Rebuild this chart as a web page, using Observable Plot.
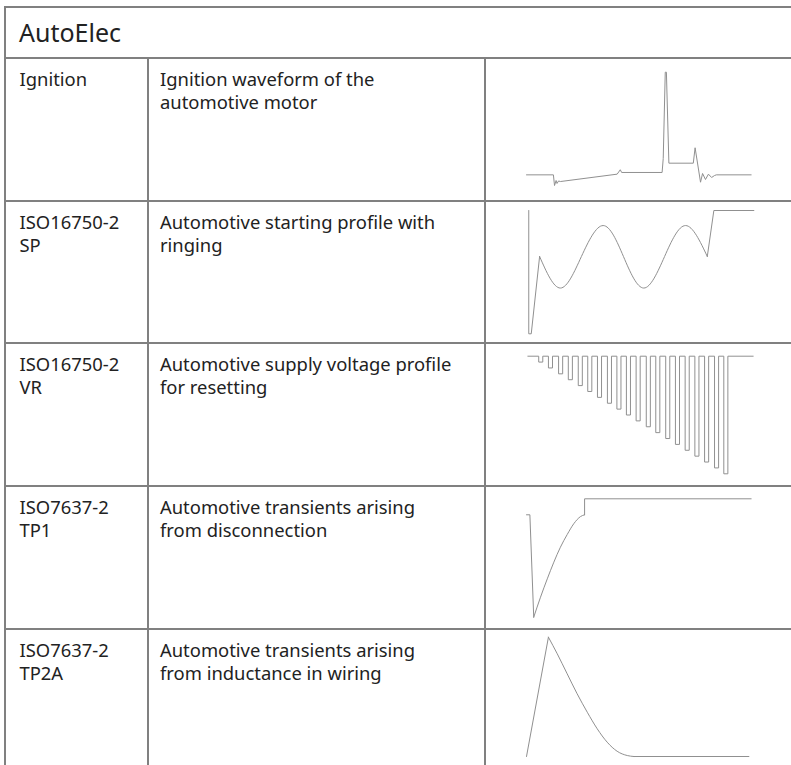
<!DOCTYPE html>
<html>
<head>
<meta charset="utf-8">
<script src="https://cdn.jsdelivr.net/npm/d3@7"></script>
<script src="https://cdn.jsdelivr.net/npm/@observablehq/plot@0.6"></script>
<style>
html, body { margin: 0; padding: 0; background: #fff; }
#root { position: relative; width: 791px; height: 765px; overflow: hidden; font-family: "Noto Sans", "Open Sans", sans-serif; color: #222; }
.hl { position: absolute; background: #808080; height: 2px; }
.vl { position: absolute; background: #808080; width: 2px; }
.txt { position: absolute; font-size: 18.4px; line-height: 23px; white-space: nowrap; }
.title { position: absolute; font-size: 25px; line-height: 30px; white-space: nowrap; }
.chart { position: absolute; }
.chart svg { display: block; overflow: visible; }
</style>
</head>
<body>
<div id="root"></div>
<script>
// ---------- table text ----------
const title = "AutoElec";
const names = [
  ["Ignition"],
  ["ISO16750-2", "SP"],
  ["ISO16750-2", "VR"],
  ["ISO7637-2", "TP1"],
  ["ISO7637-2", "TP2A"]
];
const descriptions = [
  ["Ignition waveform of the", "automotive motor"],
  ["Automotive starting profile with", "ringing"],
  ["Automotive supply voltage profile", "for resetting"],
  ["Automotive transients arising", "from disconnection"],
  ["Automotive transients arising", "from inductance in wiring"]
];

// ---------- waveform values (time in % of span, level in % of full scale) ----------
// Ignition
const ignT = [0, 11.9, 12.4, 13.1, 13.5, 14.2, 15.0, 40.1, 41.5, 42.1, 60.0, 60.5, 61.4, 61.9, 63.0, 73.8, 74.6, 77.0, 77.9, 79.2, 80.5, 81.9, 83.2, 84.0, 99.4];
const ignV = [9.4, 9.4, 0, 4.4, 1.8, 4.0, 3.5, 10.0, 13.9, 11.5, 11.5, 23.8, 100, 100, 19.7, 19.7, 33.3, 2.9, 10.6, 5.3, 10.0, 7.1, 8.8, 9.4, 9.4];

// ISO16750-2 SP
const spDropT = [1.0, 1.0, 2.1, 5.8];
const spDropV = [100, 0, 0, 62.7];
const spRingT = [5.8, 15.0, 24.3, 33.9, 42.9, 51.9, 61.1, 70.4, 80.0];
const spRingV = [62.7, 37.1, 62.7, 87.8, 62.7, 37.1, 62.7, 87.8, 62.7];
const spEndT = [80.0, 82.9, 100.6];
const spEndV = [62.7, 100, 100];

// ISO16750-2 VR: pulse start times, pulse width, pulse minimum level
const vrStart = [5.4, 9.7, 14.2, 18.5, 22.9, 27.1, 31.4, 35.8, 40.0, 44.2, 48.5, 53.0, 57.2, 61.6, 65.9, 70.2, 74.5, 78.8, 83.2, 87.3];
const vrWidth = 1.8;
const vrLevel = [95, 90, 85, 80, 75, 70, 65, 60, 55, 50, 45, 40, 35, 30, 25, 20, 15, 10, 5, 0];
const vrSpan = [0.6, 100.3];

// ISO7637-2 TP1
const tp1DropT = [0, 1.5, 3.2];
const tp1DropV = [86.5, 86.5, 0];
const tp1RecT = [3.2, 6.2, 9.2, 12.1, 15.0, 18.0, 20.9, 23.9, 25.7];
const tp1RecV = [0, 16.9, 32.4, 46.5, 59.1, 69.8, 78.9, 85.0, 86.5];
const tp1EndT = [25.7, 25.7, 99.4];
const tp1EndV = [86.5, 100, 100];

// ISO7637-2 TP2A
const tp2RiseT = [0, 9.7];
const tp2RiseV = [0, 100];
const tp2DecayT = [9.7, 13.6, 18.0, 22.4, 26.9, 31.3, 35.7, 40.1, 44.6, 47.5];
const tp2DecayV = [100, 86.1, 69.3, 52.6, 37.1, 23.2, 12.0, 4.4, 0.8, 0];
const tp2EndT = [47.5, 98.4];
const tp2EndV = [0, 0];

// ---------- helpers ----------
const pts = (T, V) => T.map((t, i) => ({t, v: V[i]}));
function vrPoints() {
  const p = [{t: vrSpan[0], v: 100}];
  vrStart.forEach((s, i) => {
    p.push({t: s, v: 100}, {t: s, v: vrLevel[i]}, {t: s + vrWidth, v: vrLevel[i]}, {t: s + vrWidth, v: 100});
  });
  p.push({t: vrSpan[1], v: 100});
  return p;
}

const STROKE = "#909090";
const seg = (data, curve = "linear") => Plot.line(data, {x: "t", y: "v", curve, stroke: STROKE, strokeWidth: 1});

const waves = [
  {mt: 12.7, mb: 14, marks: [seg(pts(ignT, ignV))]},
  {mt: 8, mb: 8.7, marks: [seg(pts(spDropT, spDropV)), seg(pts(spRingT, spRingV), "natural"), seg(pts(spEndT, spEndV))]},
  {mt: 11.7, mb: 10.7, marks: [seg(vrPoints())]},
  {mt: 11.3, mb: 10.3, marks: [seg(pts(tp1DropT, tp1DropV)), seg(pts(tp1RecT, tp1RecV), "monotone-x"), seg(pts(tp1EndT, tp1EndV))]},
  {mt: 6.7, mb: 14, marks: [seg(pts(tp2RiseT, tp2RiseV)), seg(pts(tp2DecayT, tp2DecayV), "monotone-x"), seg(pts(tp2EndT, tp2EndV))]}
];

// ---------- layout ----------
const root = document.getElementById("root");
const rowLines = [57, 200, 342, 485, 628];
const colLines = [4, 147, 484];
const topLine = 6;

function el(cls, style, text) {
  const d = document.createElement("div");
  d.className = cls;
  Object.assign(d.style, style);
  if (text != null) d.innerHTML = text;
  root.appendChild(d);
  return d;
}

// grid lines
el("hl", {left: colLines[0] + "px", top: topLine + "px", width: (791 - colLines[0]) + "px"});
rowLines.forEach(y => el("hl", {left: colLines[0] + "px", top: y + "px", width: (791 - colLines[0]) + "px"}));
el("vl", {left: colLines[0] + "px", top: topLine + "px", height: (765 - topLine) + "px"});
el("vl", {left: colLines[1] + "px", top: rowLines[0] + "px", height: (765 - rowLines[0]) + "px"});
el("vl", {left: colLines[2] + "px", top: rowLines[0] + "px", height: (765 - rowLines[0]) + "px"});

// title
el("title", {left: "19px", top: "17px"}, title);

// rows
names.forEach((lines, i) => {
  const top = rowLines[i] + 2 + 8.3;
  el("txt", {left: "19.5px", top: top + "px"}, lines.join("<br>"));
  el("txt", {left: "160px", top: top + "px"}, descriptions[i].join("<br>"));
  const w = waves[i];
  const H = 140, W = 305;
  const chart = Plot.plot({
    width: W, height: H,
    marginLeft: 40, marginRight: 39, marginTop: w.mt, marginBottom: w.mb,
    x: {domain: [0, 100], axis: null},
    y: {domain: [0, 100], axis: null},
    marks: w.marks
  });
  const holder = el("chart", {left: (colLines[2] + 2) + "px", top: (rowLines[i] + 2) + "px"});
  holder.appendChild(chart);
});
</script>
</body>
</html>
